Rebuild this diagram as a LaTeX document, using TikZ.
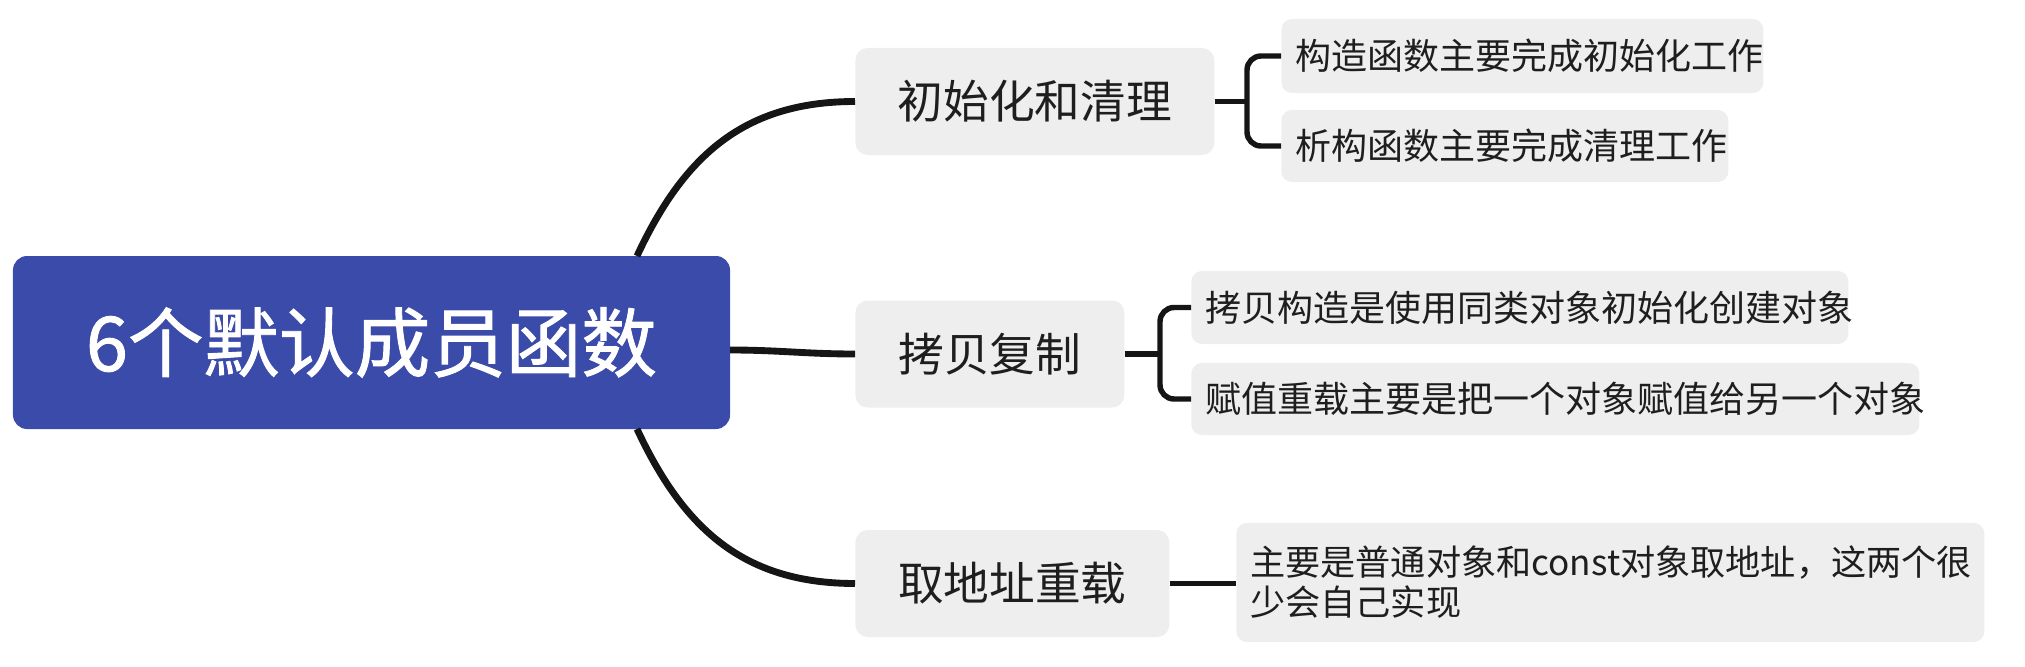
\documentclass[tikz,border=0pt]{standalone}
\usepackage{fontspec}
\newfontfamily\cjk{Noto Sans CJK SC}
\newfontfamily\cjkroot{Noto Sans CJK SC}[FakeBold=1.2]
\definecolor{rootblue}{RGB}{58,75,169}
\definecolor{boxgray}{RGB}{238,238,238}
\definecolor{textgray}{RGB}{30,30,30}
\definecolor{linegray}{RGB}{21,21,21}
\begin{document}
\begin{tikzpicture}[
      every node/.style={font=\cjk},
      root/.style={fill=rootblue, rounded corners=8pt, text=white,
        font=\cjkroot\fontsize{43}{50}\selectfont, inner sep=0pt,
        minimum width=14.34cm, minimum height=3.46cm},
      l1/.style={fill=boxgray, rounded corners=7pt, text=textgray, anchor=west,
        font=\cjk\fontsize{26}{30}\selectfont, inner sep=0pt, minimum height=2.14cm},
      l2/.style={fill=boxgray, rounded corners=6pt, text=textgray, anchor=west,
        align=left, inner xsep=0.28cm, inner ysep=0pt,
        font=\cjk\fontsize{20.5}{22.8}\selectfont},
      link/.style={draw=linegray, line width=3.9pt},
      sublink/.style={draw=linegray, line width=3.1pt, rounded corners=8pt},
    ]
    \useasboundingbox (0,0) rectangle (40.5,-13.34);

    \node[root] (root) at (7.43, -6.85) {6个默认成员函数};

    \node[l1, minimum width=7.18cm] (b1) at (17.1, -2.03)  {初始化和清理};
    \node[l1, minimum width=5.38cm] (b2) at (17.1, -7.08)  {拷贝复制};
    \node[l1, minimum width=6.28cm] (b3) at (17.1, -11.67) {取地址重载};

    \foreach \n/\x/\y/\w/\h/\t in {
        l1a/25.62/-1.12/9.08/1.48/{构造函数主要完成初始化工作},
        l1b/25.62/-2.92/8.38/1.44/{析构函数主要完成清理工作},
        l2a/23.82/-6.15/12.58/1.46/{拷贝构造是使用同类对象初始化创建对象},
        l2b/23.82/-7.98/14.0/1.44/{赋值重载主要是把一个对象赋值给另一个对象},
        l3/24.72/-11.65/14.4/2.38/{\fontsize{20}{22.8}\selectfont 主要是普通对象和const对象取地址，这两个很\\少会自己实现}} {
      \node[l2, text width=\w cm, minimum height=\h cm] (\n) at (\x, \y) {\t};
    }

    % root to branches
    \coordinate (c1) at (12.74, -5.12);
    \coordinate (c2) at (14.6, -7.0);
    \coordinate (c3) at (12.74, -8.58);
    \draw[link] (c1) to[out=65, in=180, looseness=1.06] (b1.west);
    \draw[link] (c2) to[out=0, in=180] (b2.west);
    \draw[link] (c3) to[out=-65, in=180, looseness=1.06] (b3.west);

    % branches to leaves
    \coordinate (j1) at (24.94, -2.03);
    \coordinate (j2) at (23.2, -7.08);
    \draw[sublink] (b1.east) -- (j1);
    \draw[sublink] (l1a.west) -| (j1) |- (l1b.west);
    \draw[sublink] (b2.east) -- (j2);
    \draw[sublink] (l2a.west) -| (j2) |- (l2b.west);
    \draw[sublink] (b3.east) -- (b3.east -| l3.west);
  \end{tikzpicture}
\end{document}
